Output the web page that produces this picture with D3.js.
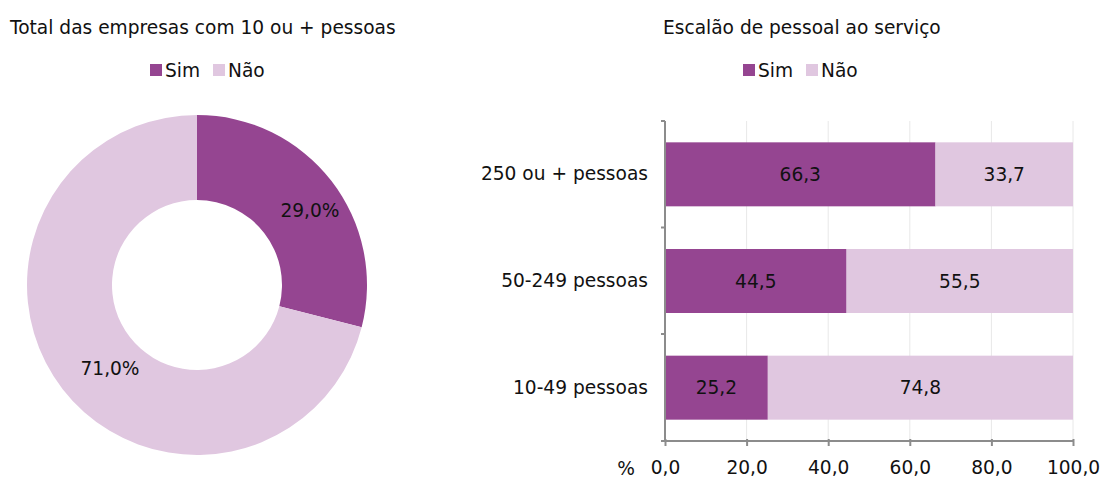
<!DOCTYPE html>
<html lang="pt">
<head>
<meta charset="UTF-8">
<script src="https://d3js.org/d3.v7.min.js"></script>
<style>
  body { margin: 0; background: #fff; }
  svg text { font-family: "DejaVu Sans", Verdana, sans-serif; fill: #111; }
</style>
</head>
<body>
<div id="chart"></div>
<script>
// data
const seriesNames = ["Sim", "Não"];
const colors = ["#954591", "#e0c7e0"];
const totalShares = [29.0, 71.0];
const categories = ["250 ou + pessoas", "50-249 pessoas", "10-49 pessoas"];
const simValues = [66.3, 44.5, 25.2];
const naoValues = [33.7, 55.5, 74.8];
const xTicks = [0, 20, 40, 60, 80, 100];

const fmt = v => d3.format(".1f")(v).replace(".", ",");
const fs = "18.6px";

const svg = d3.select("#chart").append("svg")
  .attr("width", 1107).attr("height", 480);

// ---- left: donut ----
svg.append("text").attr("x", 10).attr("y", 34)
  .style("font-size", fs).text("Total das empresas com 10 ou + pessoas");

function legend(x, y) {
  const g = svg.append("g").attr("transform", `translate(${x},${y})`);
  const offsets = [0, 63];
  seriesNames.forEach((name, i) => {
    g.append("rect").attr("x", offsets[i]).attr("y", -6).attr("width", 12).attr("height", 12)
      .attr("fill", colors[i]);
    g.append("text").attr("x", offsets[i] + 15).attr("y", 7)
      .style("font-size", fs).text(name);
  });
}
legend(150, 70);

const cx = 197, cy = 285;
const pie = d3.pie().sort(null).value(d => d);
const arc = d3.arc().innerRadius(85).outerRadius(170);
const donut = svg.append("g").attr("transform", `translate(${cx},${cy})`);
const arcs = pie(totalShares);
donut.selectAll("path").data(arcs).join("path")
  .attr("d", arc).attr("fill", (d, i) => colors[i]);
const labelPos = [[113, -75], [-87, 83]];
donut.selectAll("text").data(arcs).join("text")
  .attr("x", (d, i) => labelPos[i][0]).attr("y", (d, i) => labelPos[i][1])
  .attr("text-anchor", "middle").attr("dy", "0.35em")
  .style("font-size", fs)
  .text(d => fmt(d.data) + "%");

// ---- right: stacked bars ----
svg.append("text").attr("x", 663).attr("y", 34)
  .style("font-size", fs).text("Escalão de pessoal ao serviço");
legend(743, 70);

const x = d3.scaleLinear().domain([0, 100]).range([665, 1073]);
const y = d3.scaleBand().domain(categories).range([121, 441]).paddingInner(0.4).paddingOuter(0.2);

// gridlines
svg.append("g").selectAll("line").data(xTicks.slice(1)).join("line")
  .attr("x1", d => x(d)).attr("x2", d => x(d)).attr("y1", 121).attr("y2", 441)
  .attr("stroke", "#e8e8e8").attr("stroke-width", 1);

const rows = categories.map((c, i) => ({ cat: c, vals: [simValues[i], naoValues[i]] }));
rows.forEach(r => {
  let start = 0;
  r.vals.forEach((v, j) => {
    svg.append("rect")
      .attr("x", x(start)).attr("y", y(r.cat))
      .attr("width", x(start + v) - x(start)).attr("height", y.bandwidth())
      .attr("fill", colors[j]);
    svg.append("text")
      .attr("x", x(start + v / 2)).attr("y", y(r.cat) + y.bandwidth() / 2)
      .attr("dy", "0.35em").attr("text-anchor", "middle")
      .style("font-size", fs).text(fmt(v));
    start += v;
  });
});

// axes
const axisColor = "#8c8c8c";
const xAxis = svg.append("g").attr("transform", "translate(0,441)")
  .call(d3.axisBottom(x).tickValues(xTicks).tickSize(5).tickSizeOuter(0).tickFormat(fmt));
xAxis.select(".domain").attr("stroke", axisColor).attr("stroke-width", 2).attr("d", "M665,0H1073");
xAxis.selectAll(".tick line").attr("stroke", axisColor).attr("stroke-width", 2).attr("y1", -2).attr("y2", 5);
xAxis.selectAll(".tick text").attr("y", 20).style("font-size", fs)
  .style("font-family", '"DejaVu Sans", Verdana, sans-serif').attr("fill", "#111");

const yAxis = svg.append("g").attr("transform", "translate(665,0)")
  .call(d3.axisLeft(y).tickSize(0).tickPadding(17));
yAxis.select(".domain").attr("stroke", axisColor).attr("stroke-width", 2).attr("d", "M0,121V441");
yAxis.selectAll(".tick text").style("font-size", fs)
  .style("font-family", '"DejaVu Sans", Verdana, sans-serif').attr("fill", "#111");
// category boundary ticks
const bounds = [121, 227.5, 334, 441];
yAxis.selectAll(".bound").data(bounds).join("line").attr("class", "bound")
  .attr("x1", -4).attr("x2", 0).attr("y1", d => d).attr("y2", d => d)
  .attr("stroke", axisColor).attr("stroke-width", 2);

svg.append("text").attr("x", 626).attr("y", 475).attr("text-anchor", "middle")
  .style("font-size", fs).text("%");
</script>
</body>
</html>
